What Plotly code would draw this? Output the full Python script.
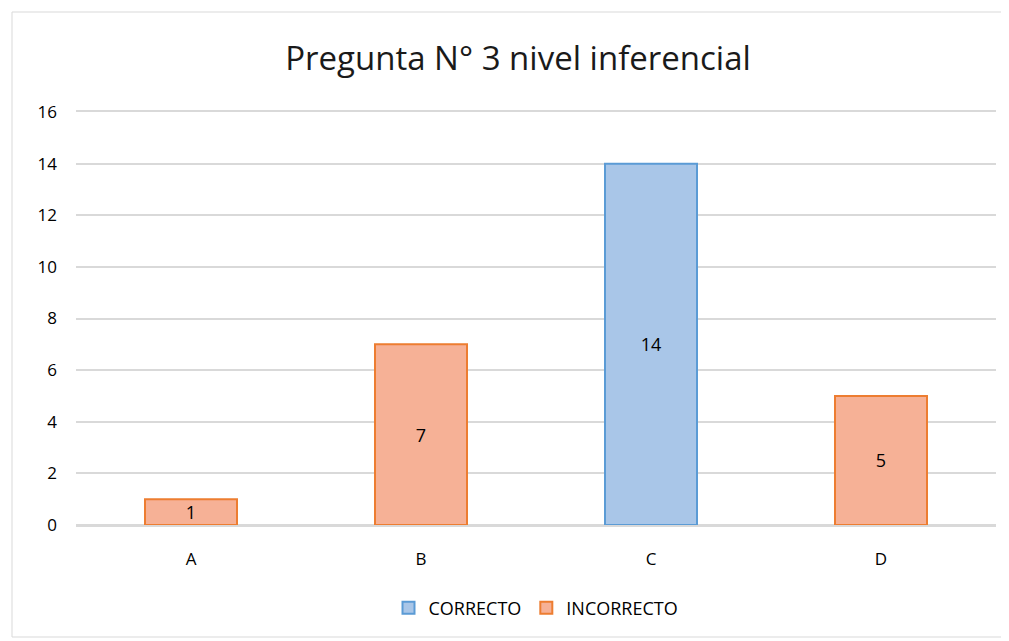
import plotly.graph_objects as go

categorias = ["A", "B", "C", "D"]
correcto = [None, None, 14, None]
incorrecto = [1, 7, None, 5]

# page offset of 8px (body margin) is removed from the figure size
W, H = 1001, 633
L, R, T, B = 68, 13, 104, 116
pw, ph = W - L - R, H - T - B

fig = go.Figure()
fig.add_trace(go.Bar(x=categorias, y=correcto, name="CORRECTO",
                     marker=dict(color="#A9C6E8", line=dict(color="#5B9BD5", width=2)),
                     text=["" if v is None else str(v) for v in correcto],
                     textposition="inside", insidetextanchor="middle",
                     constraintext="none", textangle=0,
                     textfont=dict(size=18, color="#000000")))
fig.add_trace(go.Bar(x=categorias, y=incorrecto, name="INCORRECTO",
                     marker=dict(color="#F6B196", line=dict(color="#ED7D31", width=2)),
                     text=["" if v is None else str(v) for v in incorrecto],
                     textposition="inside", insidetextanchor="middle",
                     constraintext="none", textangle=0,
                     textfont=dict(size=18, color="#000000")))

fig.update_layout(
    width=W, height=H,
    barmode="overlay", bargap=0.6,
    paper_bgcolor="white", plot_bgcolor="white",
    font=dict(family="Open Sans, Liberation Sans, sans-serif", color="#000000", size=17),
    title=dict(text="Pregunta N° 3 nivel inferencial", x=(518 - 8) / W, xanchor="center",
               y=1 - (58 - 8) / H, yanchor="middle", font=dict(size=33, color="#1a1a1a")),
    margin=dict(l=L, r=R, t=T, b=B),
    legend=dict(orientation="h", x=0.5, xanchor="center", y=-(608 - 525) / ph, yanchor="middle",
                font=dict(size=18), traceorder="normal"),
    showlegend=True,
)
fig.update_yaxes(range=[0, 16], dtick=2, showgrid=True, gridcolor="#D9D9D9", gridwidth=1.5,
                 zeroline=True, zerolinecolor="#D9D9D9", zerolinewidth=1.5,
                 ticklabelstandoff=18, tickfont=dict(size=17))
fig.update_xaxes(showgrid=False, showline=True, mirror=True, linecolor="#D9D9D9", linewidth=1.5,
                 ticklabelstandoff=18, tickfont=dict(size=17))

fig.add_shape(type="rect", xref="paper", yref="paper",
              x0=-(L - 4) / pw, x1=1 + (R - 4) / pw, y0=-(B - 4) / ph, y1=1 + (T - 4) / ph,
              line=dict(color="#D9D9D9", width=1), fillcolor="rgba(0,0,0,0)", layer="below")

fig.write_html("out.html")
